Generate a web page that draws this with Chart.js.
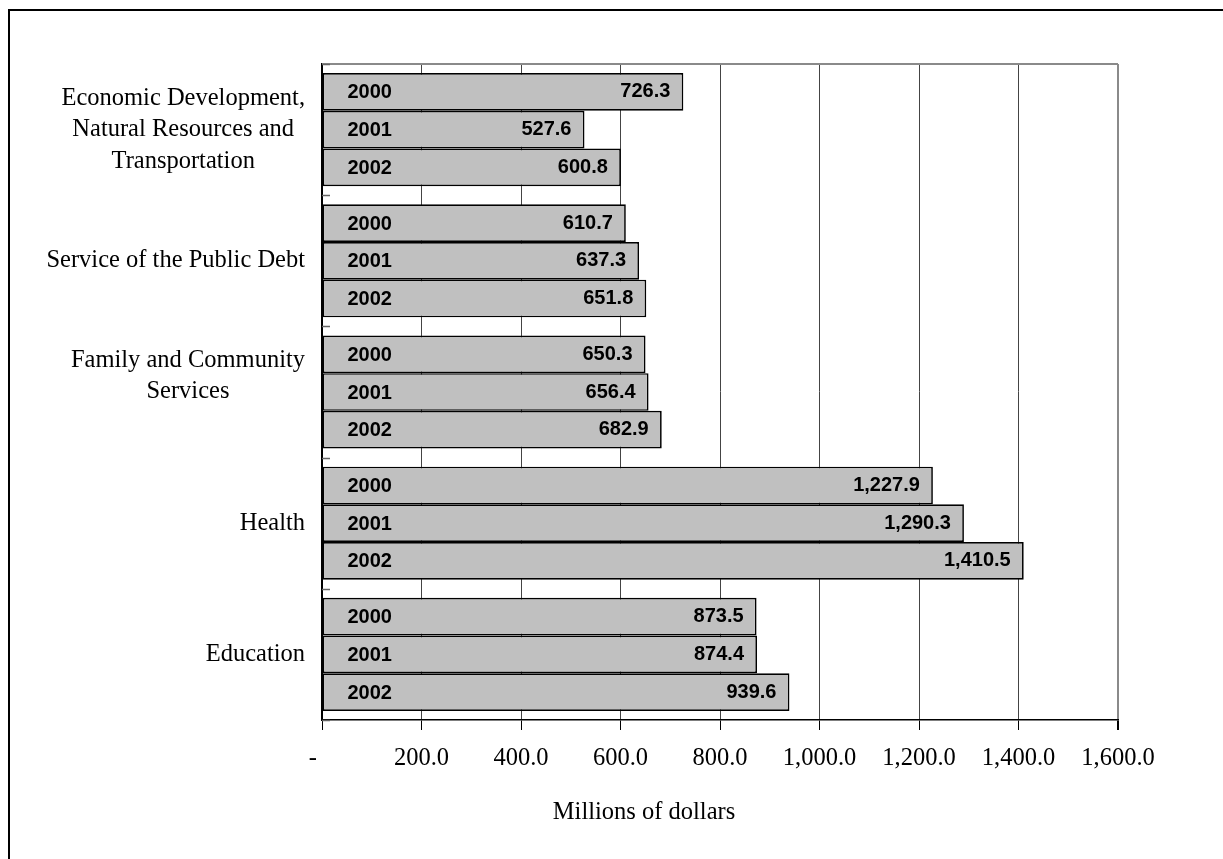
<!DOCTYPE html>
<html>
<head>
<meta charset="utf-8">
<script src="https://cdn.jsdelivr.net/npm/chart.js@4.4.1/dist/chart.umd.min.js"></script>
<style>
html,body{margin:0;padding:0;background:#fff;}
#wrap{width:1223px;height:859px;position:relative;}
</style>
</head>
<body>
<div id="wrap"><canvas id="c" width="1223" height="859"></canvas></div>
<script>
// ---- data ----
const categories = [
  ["Economic Development,", "Natural Resources and", "Transportation"],
  ["Service of the Public Debt"],
  ["Family and Community", "Services", ""],
  ["Health"],
  ["Education"]
];
const years = ["2000", "2001", "2002"];
const values2000 = [726.3, 610.7, 650.3, 1227.9, 873.5];
const values2001 = [527.6, 637.3, 656.4, 1290.3, 874.4];
const values2002 = [600.8, 651.8, 682.9, 1410.5, 939.6];
const xMin = 0, xMax = 1600, xStep = 200;
const axisTitle = "Millions of dollars";

const SERIF = "'Liberation Serif', 'Times New Roman', serif";
const SANS = "'Liberation Sans', Arial, sans-serif";

function fmt(v) {
  if (v === 0) return "-";
  return v.toLocaleString('en-US', {minimumFractionDigits: 1, maximumFractionDigits: 1});
}

const seriesValues = [values2000, values2001, values2002];

const framePlugin = {
  id: 'frame',
  beforeDraw(chart) {
    const ctx = chart.ctx;
    ctx.save();
    ctx.fillStyle = '#fff';
    ctx.fillRect(0, 0, chart.width, chart.height);
    ctx.strokeStyle = '#000';
    ctx.lineWidth = 2;
    ctx.strokeRect(9, 10, 1400, 1000);
    ctx.restore();
  },
  afterDraw(chart) {
    const ctx = chart.ctx;
    const a = chart.chartArea;
    const ys = chart.scales.y;
    ctx.save();
    // plot area top border
    ctx.strokeStyle = '#8a8a8a';
    ctx.lineWidth = 2;
    ctx.beginPath();
    ctx.moveTo(a.left, a.top);
    ctx.lineTo(a.right, a.top);
    ctx.stroke();
    // inside category ticks
    ctx.strokeStyle = '#666';
    ctx.lineWidth = 1.5;
    for (let i = 0; i <= categories.length; i++) {
      const y = Math.round(ys.getPixelForValue(i - 0.5)) + 0.5;
      ctx.beginPath();
      ctx.moveTo(a.left, y);
      ctx.lineTo(a.left + 8, y);
      ctx.stroke();
    }
    // category labels (centered lines, block right-aligned)
    ctx.fillStyle = '#000';
    ctx.font = '24.5px ' + SERIF;
    ctx.textBaseline = 'middle';
    ctx.textAlign = 'center';
    const lineH = 31.5;
    categories.forEach((lines, i) => {
      const cy = ys.getPixelForValue(i);
      let maxW = 0;
      lines.forEach(l => { maxW = Math.max(maxW, ctx.measureText(l).width); });
      const cx = a.left - 17 - maxW / 2;
      lines.forEach((l, k) => {
        ctx.fillText(l, cx, cy + (k - (lines.length - 1) / 2) * lineH);
      });
    });
    // axis title, centred on the outer frame
    ctx.font = '24.5px ' + SERIF;
    ctx.fillText(axisTitle, 644, 813);
    ctx.restore();
  },
  afterDatasetsDraw(chart) {
    const ctx = chart.ctx;
    ctx.save();
    ctx.fillStyle = '#000';
    ctx.font = 'bold 20px ' + SANS;
    ctx.textBaseline = 'middle';
    chart.data.datasets.forEach((ds, i) => {
      const meta = chart.getDatasetMeta(i);
      meta.data.forEach((el, j) => {
        ctx.textAlign = 'left';
        ctx.fillText(ds.label, el.base + 25, el.y + 1);
        ctx.textAlign = 'right';
        ctx.fillText(fmt(ds.data[j]), el.x - 13, el.y);
      });
    });
    ctx.restore();
  }
};

new Chart(document.getElementById('c'), {
  type: 'bar',
  data: {
    labels: categories,
    datasets: years.map((y, i) => ({
      label: y,
      data: seriesValues[i],
      backgroundColor: '#c0c0c0',
      borderColor: '#000',
      borderWidth: 1.7,
      borderSkipped: false,
      barPercentage: 1,
      categoryPercentage: 0.862
    }))
  },
  options: {
    indexAxis: 'y',
    responsive: false,
    animation: false,
    devicePixelRatio: 1,
    layout: {padding: {top: 64, right: 105, left: 0, bottom: 0}},
    plugins: {legend: {display: false}, tooltip: {enabled: false}},
    scales: {
      x: {
        type: 'linear',
        position: 'bottom',
        min: xMin,
        max: xMax,
        ticks: {
          stepSize: xStep,
          callback: v => v === 0 ? "-   " : fmt(v),
          font: {family: SERIF, size: 24.5},
          color: '#000',
          padding: 14,
          maxRotation: 0
        },
        grid: {
          color: ctx => (ctx.tick && ctx.tick.value === xMax) ? '#8a8a8a' : '#444',
          lineWidth: ctx => (ctx.tick && ctx.tick.value === xMax) ? 2 : 1,
          tickLength: 10,
          tickColor: '#000',
          drawTicks: true
        },
        border: {color: '#000', width: 1.5},
        title: {display: false},
        afterFit: s => { s.height = 139; }
      },
      y: {
        type: 'category',
        position: 'left',
        ticks: {display: false},
        grid: {display: false},
        border: {color: '#000', width: 2},
        afterFit: s => { s.width = 322; }
      }
    }
  },
  plugins: [framePlugin]
});
</script>
</body>
</html>
